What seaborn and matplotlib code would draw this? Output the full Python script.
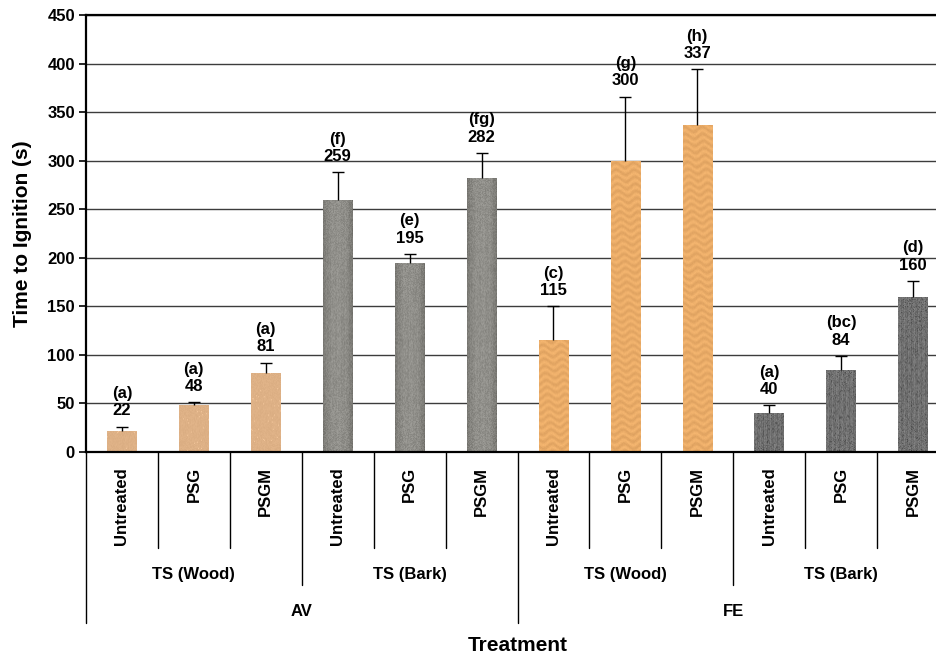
import numpy as np
import pandas as pd
import seaborn as sns
import matplotlib.pyplot as plt
import matplotlib.transforms as mtransforms

# data
fire = ["AV"] * 6 + ["FE"] * 6
material = (["TS (Wood)"] * 3 + ["TS (Bark)"] * 3) * 2
treatment = ["Untreated", "PSG", "PSGM"] * 4
tti = [22, 48, 81, 259, 195, 282, 115, 300, 337, 40, 84, 160]
err_up = [4, 3, 11, 29, 9, 26, 35, 66, 57, 8, 15, 16]
letters = ["(a)", "(a)", "(a)", "(f)", "(e)", "(fg)", "(c)", "(g)", "(h)", "(a)", "(bc)", "(d)"]

df = pd.DataFrame({"fire": fire, "material": material, "treatment": treatment,
                   "tti": tti, "err": err_up, "letter": letters})
df["key"] = df["fire"] + "|" + df["material"] + "|" + df["treatment"]
df["group"] = df["fire"] + " " + df["material"]

base_cols = {
    "AV TS (Wood)": (222, 177, 134),
    "AV TS (Bark)": (146, 145, 140),
    "FE TS (Wood)": (234, 172, 104),
    "FE TS (Bark)": (114, 114, 114),
}

sns.set_theme(style="white")
plt.rcParams["font.family"] = ["Liberation Sans", "DejaVu Sans"]
plt.rcParams["font.weight"] = "bold"
plt.rcParams["text.color"] = "black"
plt.rcParams["axes.labelcolor"] = "black"
plt.rcParams["ytick.color"] = "black"


def hnoise(ny, nx, seed):
    yy, xx = np.mgrid[0:ny, 0:nx]
    v = np.sin(xx * 12.9898 + yy * 78.233 + seed * 3.17) * 43758.5453
    return v - np.floor(v)


def texture(group, ny, nx, seed):
    yy, xx = np.mgrid[0:ny, 0:nx].astype(float)
    base = np.array(base_cols[group], dtype=float)
    n = hnoise(ny, nx, seed)
    if group == "FE TS (Wood)":
        grain = np.sin(2 * np.pi * (yy / 7.0 + 0.35 * np.sin(2 * np.pi * xx / 18.0 + yy / 30.0)))
        shade = grain * 9 + (n - 0.5) * 6
        img = base[None, None, :] + shade[..., None] * np.array([1.0, 0.9, 0.7])
    elif group == "AV TS (Wood)":
        shade = (n - 0.5) * 8 + np.where(n > 0.985, 18, 0)
        img = base[None, None, :] + shade[..., None]
    elif group == "AV TS (Bark)":
        streak = np.sin(xx * 0.9) * 2 + np.sin(xx * 2.3 + 1) * 2
        edge = np.abs(xx - (nx - 1) / 2) / ((nx - 1) / 2)
        shade = streak + (n - 0.5) * 24 - edge ** 3 * 25 - np.where(n > 0.97, 25, 0)
        img = base[None, None, :] + shade[..., None]
    else:
        streak = np.sin(xx * 1.3) * 6 + np.sin(xx * 3.1 + 2) * 4
        shade = streak + (n - 0.5) * 30 - np.where(n > 0.94, 45, 0)
        img = base[None, None, :] + shade[..., None]
    return np.clip(img / 255.0, 0, 1)


fig = plt.figure(figsize=(9.36, 6.55), dpi=100)
ax = fig.add_axes([86 / 936, 203 / 655, 863 / 936, 437 / 655])

palette = {g: tuple(c / 255 for c in rgb) for g, rgb in base_cols.items()}
sns.barplot(data=df, x="key", y="tti", hue="group", palette=palette, dodge=False,
            width=0.41, linewidth=0, legend=False, ax=ax, zorder=2)

ax.set_xlim(-0.5, len(df) - 0.5)
ax.set_ylim(0, 450)
ax.set_yticks(np.arange(0, 451, 50))

# texture fill for every bar
for p in ax.patches:
    w = p.get_width()
    h = p.get_height()
    if h <= 0:
        continue
    i = int(round(p.get_x() + w / 2))
    ny = max(int(h * 0.97), 2)
    img = texture(df["group"][i], ny, 30, i + 1)
    im = ax.imshow(img, extent=(p.get_x(), p.get_x() + w, 0, h), origin="lower",
                   aspect="auto", interpolation="bilinear", zorder=2.5)
    im.set_clip_path(p)

# upper error bars only, cap on top
eb = ax.errorbar(np.arange(len(df)), df["tti"], yerr=[np.zeros(len(df)), df["err"]],
                 fmt="none", ecolor="black", elinewidth=1, capsize=4, capthick=1, zorder=3)
eb[1][0].set_visible(False)

for i, row in df.iterrows():
    ax.annotate(f"{row['letter']}\n{row['tti']}", xy=(i, row["tti"] + row["err"]),
                xytext=(0, 6), textcoords="offset points", ha="center", va="bottom",
                fontsize=12, fontweight="bold", linespacing=1.2, color="black")

ax.yaxis.grid(True, color="#3c3c3c", lw=1)
ax.set_axisbelow(True)
for s in ["left", "bottom", "top"]:
    ax.spines[s].set_color("black")
    ax.spines[s].set_linewidth(1.6)
ax.spines["right"].set_visible(False)

ax.tick_params(axis="y", left=True, length=5, width=1.2, labelsize=12, pad=3,
               colors="black")
ax.tick_params(axis="x", bottom=False, labelbottom=False)
for t in ax.get_yticklabels():
    t.set_fontweight("bold")
ax.set_xlabel("")
ax.set_ylabel("Time to Ignition (s)", fontsize=15, fontweight="bold", color="black")
ax.yaxis.set_label_coords(-0.062, 0.5)

# multi-level category axis below the plot
trans = mtransforms.blended_transform_factory(ax.transData, ax.transAxes)
n = len(df)
for b in range(n + 1):
    xb = b - 0.5
    if b == 0 or b == n or fire[b] != fire[b - 1]:
        depth = -0.391
    elif material[b] != material[b - 1]:
        depth = -0.304
    else:
        depth = -0.22
    ax.plot([xb, xb], [0, depth], transform=trans, color="black", lw=1, clip_on=False)

for i, t in enumerate(treatment):
    ax.text(i, -0.034, t, transform=trans, rotation=90, ha="center", va="top",
            fontsize=12, fontweight="bold", color="black")

for (f, m), sub in df.groupby(["fire", "material"], sort=False):
    ax.text(sub.index.to_numpy().mean(), -0.281, m, transform=trans, ha="center",
            va="center", fontsize=12, fontweight="bold", color="black")

for f, sub in df.groupby("fire", sort=False):
    ax.text(sub.index.to_numpy().mean(), -0.366, f, transform=trans, ha="center",
            va="center", fontsize=12, fontweight="bold", color="black")

ax.text(0.5, -0.442, "Treatment", transform=ax.transAxes, ha="center", va="center",
        fontsize=15, fontweight="bold", color="black")

fig.savefig("out.png", dpi=100)
